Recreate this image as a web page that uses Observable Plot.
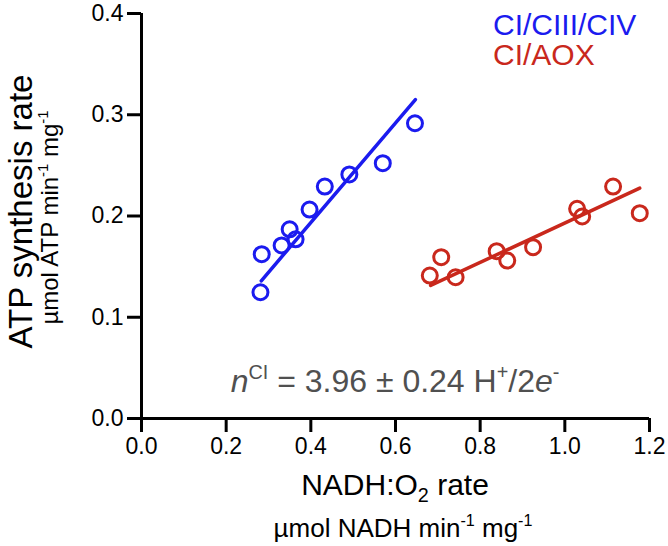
<!DOCTYPE html>
<html>
<head>
<meta charset="utf-8">
<script src="https://cdn.jsdelivr.net/npm/d3@7"></script>
<script src="https://cdn.jsdelivr.net/npm/@observablehq/plot@0.6"></script>
<style>
  html, body { margin: 0; padding: 0; background: #fff; }
  #chart { width: 668px; height: 546px; }
</style>
</head>
<body>
<div id="chart"></div>
<script>
// ---- data ----
const blueX = [0.281, 0.284, 0.331, 0.350, 0.364, 0.397, 0.433, 0.491, 0.570, 0.646];
const blueY = [0.1247, 0.1623, 0.1709, 0.1869, 0.1770, 0.2064, 0.2291, 0.2410, 0.2522, 0.2916];
const redX = [0.681, 0.708, 0.742, 0.839, 0.864, 0.925, 1.029, 1.041, 1.114, 1.177];
const redY = [0.1412, 0.1593, 0.1395, 0.1652, 0.1560, 0.1692, 0.2071, 0.1995, 0.2291, 0.2028];
// fitted lines (end points)
const blueFitX = [0.283, 0.647];
const blueFitY = [0.136, 0.315];
const redFitX = [0.683, 1.177];
const redFitY = [0.1314, 0.2275];
const xTicks = [0, 0.2, 0.4, 0.6, 0.8, 1.0, 1.2];
const yTicks = [0, 0.1, 0.2, 0.3, 0.4];
const seriesNames = ["CI/CIII/CIV", "CI/AOX"];
const seriesColors = ["#1b1bef", "#c9281c"];

const FONT = "'Liberation Sans', Arial, Helvetica, sans-serif";
const toPts = (xs, ys) => xs.map((x, i) => ({x, y: ys[i]}));
const blue = toPts(blueX, blueY);
const red = toPts(redX, redY);
const blueFit = toPts(blueFitX, blueFitY);
const redFit = toPts(redFitX, redFitY);
const fmt = d3.format(".1f");

const plot = Plot.plot({
  width: 668,
  height: 546,
  marginLeft: 141,
  marginRight: 19,
  marginTop: 13,
  marginBottom: 128,
  style: {fontFamily: FONT, fontSize: "23px", color: "#000", background: "#fff", overflow: "visible"},
  x: {domain: [0, 1.2]},
  y: {domain: [0, 0.4]},
  marks: [
    Plot.axisX({ticks: xTicks, tickFormat: fmt, tickSize: 14, tickPadding: 5, strokeWidth: 3, fontSize: 23, label: null}),
    Plot.axisY({ticks: yTicks, tickFormat: fmt, tickSize: 14, tickPadding: 4, strokeWidth: 3, fontSize: 23, label: null}),
    Plot.ruleY([0], {strokeWidth: 3, stroke: "#000"}),
    Plot.ruleX([0], {strokeWidth: 3, stroke: "#000"}),
    Plot.line(blueFit, {x: "x", y: "y", stroke: seriesColors[0], strokeWidth: 3.5}),
    Plot.line(redFit, {x: "x", y: "y", stroke: seriesColors[1], strokeWidth: 3.5}),
    Plot.dot(blue, {x: "x", y: "y", r: 7.5, stroke: seriesColors[0], strokeWidth: 3, fill: "none"}),
    Plot.dot(red, {x: "x", y: "y", r: 7.5, stroke: seriesColors[1], strokeWidth: 3, fill: "none"})
  ]
});

document.getElementById("chart").appendChild(plot);

// ---- rich text (superscripts / subscripts) ----
const svg = d3.select(plot);
const sx = plot.scale("x"), sy = plot.scale("y");
const cx = (sx.apply(0) + sx.apply(1.2)) / 2;
const cy = (sy.apply(0) + sy.apply(0.4)) / 2;

function rich(g, parts, size) {
  let shift = 0;
  for (const [t, kind] of parts) {
    const ts = g.append("tspan").text(t);
    let target = 0;
    if (kind === "sup") { target = -0.42 * size; ts.attr("font-size", size * 0.62); }
    else if (kind === "sub") { target = 0.22 * size; ts.attr("font-size", size * 0.66); }
    if (kind === "i") ts.attr("font-style", "italic");
    ts.attr("dy", target - shift);
    shift = target;
  }
}

// x axis title
const xt = svg.append("text").attr("x", cx).attr("y", 495).attr("text-anchor", "middle")
  .attr("font-family", FONT).attr("font-size", 30).attr("fill", "#000");
rich(xt, [["NADH:O", null], ["2", "sub"], [" rate", null]], 30);

const xs = svg.append("text").attr("x", cx + 8).attr("y", 537).attr("text-anchor", "middle")
  .attr("font-family", FONT).attr("font-size", 26).attr("fill", "#000");
rich(xs, [["µmol NADH min", null], ["-1", "sup"], [" mg", null], ["-1", "sup"]], 26);

// y axis title
svg.append("text").attr("transform", `translate(32,${cy - 4}) rotate(-90)`).attr("text-anchor", "middle")
  .attr("font-family", FONT).attr("font-size", 33).attr("fill", "#000").text("ATP synthesis rate");

const ys = svg.append("text").attr("transform", `translate(58,${cy + 2}) rotate(-90)`).attr("text-anchor", "middle")
  .attr("font-family", FONT).attr("font-size", 24).attr("fill", "#000");
rich(ys, [["µmol ATP min", null], ["-1", "sup"], [" mg", null], ["-1", "sup"]], 24);

// legend
seriesNames.forEach((name, i) => {
  svg.append("text").attr("x", 493).attr("y", 35 + i * 30).attr("text-anchor", "start")
    .attr("font-family", FONT).attr("font-size", 30).attr("fill", seriesColors[i]).text(name);
});

// annotation
const an = svg.append("text").attr("x", cx).attr("y", 392).attr("text-anchor", "middle")
  .attr("font-family", FONT).attr("font-size", 32).attr("fill", "#505050");
rich(an, [["n", "i"], ["CI", "sup"], [" = 3.96 ± 0.24 H", null], ["+", "sup"], ["/2", null], ["e", "i"], ["-", "sup"]], 32);
</script>
</body>
</html>
